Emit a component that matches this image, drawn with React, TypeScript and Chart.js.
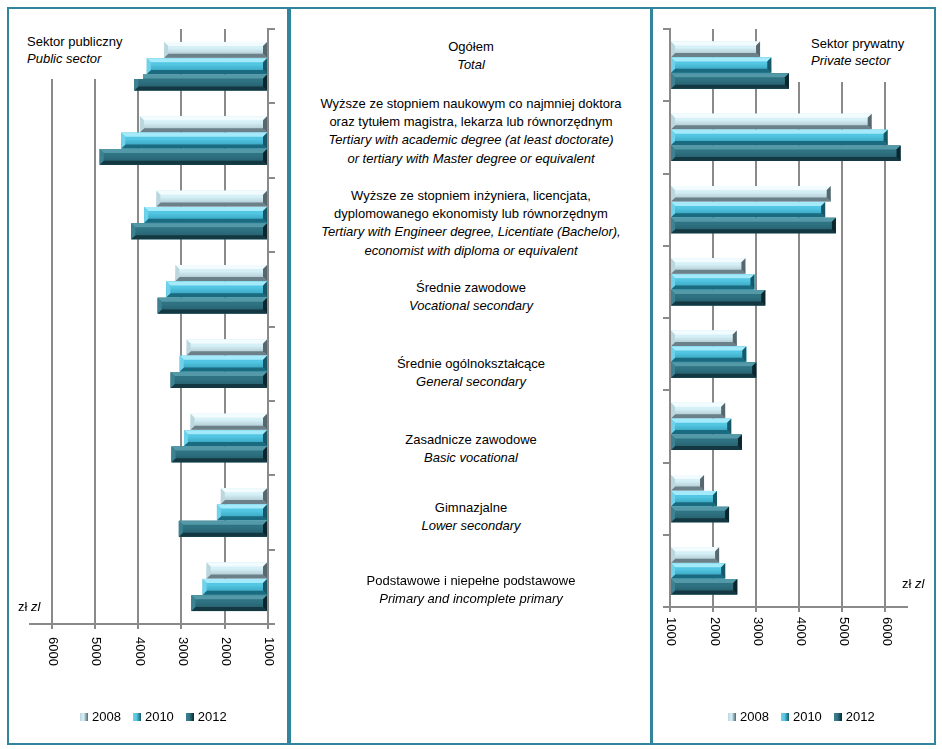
import React, { useEffect, useRef } from 'react';
import { Chart, registerables } from 'chart.js';

Chart.register(...registerables);

// ---------- data ----------
const categories = [
  'Ogółem',
  'Wyższe z doktoratem lub magisterium',
  'Wyższe z tytułem inżyniera lub licencjata',
  'Średnie zawodowe',
  'Średnie ogólnokształcące',
  'Zasadnicze zawodowe',
  'Gimnazjalne',
  'Podstawowe i niepełne podstawowe',
];
const seriesYears = ['2008', '2010', '2012'];

const public2008 = [3400, 3960, 3580, 3140, 2880, 2790, 2090, 2420];
const public2010 = [3800, 4390, 3860, 3350, 3040, 2940, 2180, 2510];
const public2012 = [4090, 4890, 4160, 3550, 3250, 3230, 3060, 2770];

const private2008 = [3090, 5680, 4730, 2750, 2550, 2280, 1790, 2140];
const private2010 = [3350, 6050, 4600, 2960, 2770, 2420, 2090, 2280];
const private2012 = [3760, 6350, 4850, 3210, 3000, 2670, 2370, 2560];

const tickValues = [1000, 2000, 3000, 4000, 5000, 6000];
const axisMin = 1000;
const axisMax = 6500;

const publicTitle = ['Sektor publiczny', 'Public sector'];
const privateTitle = ['Sektor prywatny', 'Private sector'];
const unitPl = 'zł';
const unitEn = 'zl';

const labelBlocks: { pl: string[]; en: string[] }[] = [
  { pl: ['Ogółem'], en: ['Total'] },
  {
    pl: ['Wyższe ze stopniem naukowym co najmniej doktora', 'oraz tytułem magistra, lekarza lub równorzędnym'],
    en: ['Tertiary with academic degree (at least doctorate)', 'or tertiary with Master degree or equivalent'],
  },
  {
    pl: ['Wyższe ze stopniem inżyniera, licencjata,', 'dyplomowanego ekonomisty lub równorzędnym'],
    en: ['Tertiary with Engineer degree, Licentiate (Bachelor),', 'economist with diploma or equivalent'],
  },
  { pl: ['Średnie zawodowe'], en: ['Vocational secondary'] },
  { pl: ['Średnie ogólnokształcące'], en: ['General secondary'] },
  { pl: ['Zasadnicze zawodowe'], en: ['Basic vocational'] },
  { pl: ['Gimnazjalne'], en: ['Lower secondary'] },
  { pl: ['Podstawowe i niepełne podstawowe'], en: ['Primary and incomplete primary'] },
];

// ---------- styles ----------
const FONT = "'Liberation Sans', Arial, sans-serif";
const GRID = '#8a8a8a';
const FRAME = '#31859c';

const palettes = [
  { hi: '#f2fcff', f1: '#d6f0f8', f2: '#9fb8c1', lo: '#6c8089', le: '#bcd6de', re: '#56676e' },
  { hi: '#a4eafa', f1: '#52c6e2', f2: '#2e97b2', lo: '#1b6b80', le: '#6fd2ea', re: '#165868' },
  { hi: '#5499a8', f1: '#2f7383', f2: '#235766', lo: '#133841', le: '#3d8292', re: '#0c262d' },
];

function poly(ctx: CanvasRenderingContext2D, pts: number[][], color: string) {
  ctx.beginPath();
  ctx.moveTo(pts[0][0], pts[0][1]);
  for (let i = 1; i < pts.length; i++) ctx.lineTo(pts[i][0], pts[i][1]);
  ctx.closePath();
  ctx.fillStyle = color;
  ctx.fill();
}

const bevelPlugin = {
  id: 'bevel',
  afterDatasetsDraw(chart: any) {
    const ctx: CanvasRenderingContext2D = chart.ctx;
    ctx.save();
    chart.data.datasets.forEach((_ds: any, di: number) => {
      const meta = chart.getDatasetMeta(di);
      const pal = palettes[di];
      meta.data.forEach((el: any) => {
        const p = el.getProps(['x', 'y', 'base', 'height'], true);
        const l = Math.min(p.x, p.base);
        const r = Math.max(p.x, p.base);
        const t = p.y - p.height / 2;
        const b = p.y + p.height / 2;
        const w = r - l;
        const h = b - t;
        const bv = Math.min(4, h / 3, w / 2);
        const g = ctx.createLinearGradient(0, t, 0, b);
        g.addColorStop(0, pal.f1);
        g.addColorStop(0.4, pal.f1);
        g.addColorStop(1, pal.f2);
        ctx.fillStyle = g;
        ctx.fillRect(l, t, w, h);
        poly(ctx, [[l, t], [r, t], [r - bv, t + bv], [l + bv, t + bv]], pal.hi);
        poly(ctx, [[l, b], [r, b], [r - bv, b - bv], [l + bv, b - bv]], pal.lo);
        poly(ctx, [[l, t], [l + bv, t + bv], [l + bv, b - bv], [l, b]], pal.le);
        poly(ctx, [[r, t], [r - bv, t + bv], [r - bv, b - bv], [r, b]], pal.re);
      });
    });
    ctx.restore();
  },
};

const tickTextPlugin = {
  id: 'tickText',
  afterDraw(chart: any, _args: any, opts: any) {
    const ctx: CanvasRenderingContext2D = chart.ctx;
    const xs = chart.scales.x;
    const bottom = chart.chartArea.bottom;
    ctx.save();
    ctx.fillStyle = '#000';
    ctx.font = `13px ${FONT}`;
    ctx.textAlign = 'left';
    ctx.textBaseline = 'middle';
    tickValues.forEach((v) => {
      const px = xs.getPixelForValue(v);
      ctx.save();
      ctx.translate(px + 1, bottom + opts.gap);
      ctx.rotate(Math.PI / 2);
      ctx.fillText(String(v), 0, 0);
      ctx.restore();
    });
    ctx.restore();
  },
};

type Geom = { padL: number; padR: number; padT: number; yWidth: number; xHeight: number; gap: number };

function buildConfig(values: number[][], mirrored: boolean, g: Geom): any {
  return {
    type: 'bar',
    data: {
      labels: categories,
      datasets: values.map((v, i) => ({
        label: seriesYears[i],
        data: v,
        base: axisMin,
        backgroundColor: palettes[i].f1,
        borderWidth: 0,
        categoryPercentage: 0.66,
        barPercentage: 0.97,
      })),
    },
    options: {
      indexAxis: 'y',
      animation: false,
      responsive: false,
      maintainAspectRatio: false,
      events: [],
      layout: { padding: { left: g.padL, right: g.padR, top: g.padT, bottom: 0 } },
      plugins: {
        legend: { display: false },
        tooltip: { enabled: false },
        tickText: { gap: g.gap },
      },
      scales: {
        x: {
          type: 'linear',
          position: 'bottom',
          reverse: mirrored,
          min: axisMin,
          max: axisMax,
          afterBuildTicks: (s: any) => {
            s.ticks = tickValues.map((v) => ({ value: v }));
          },
          ticks: { display: false },
          grid: { color: GRID, lineWidth: 2, drawTicks: true, tickLength: 5 },
          border: { display: true, color: GRID, width: 2 },
          afterFit: (s: any) => {
            s.height = g.xHeight;
          },
        },
        y: {
          type: 'category',
          position: mirrored ? 'right' : 'left',
          offset: true,
          ticks: { display: false },
          grid: {
            display: true,
            drawOnChartArea: false,
            drawTicks: true,
            tickLength: 7,
            color: GRID,
            lineWidth: 2,
            offset: true,
          },
          border: { display: true, color: GRID, width: 2 },
          afterFit: (s: any) => {
            s.width = g.yWidth;
          },
        },
      },
    },
    plugins: [bevelPlugin, tickTextPlugin],
  };
}

function BarCanvas(props: { values: number[][]; mirrored: boolean; geom: Geom; left: number; top: number; width: number; height: number }) {
  const ref = useRef<HTMLCanvasElement | null>(null);
  useEffect(() => {
    if (!ref.current) return;
    const chart = new Chart(ref.current, buildConfig(props.values, props.mirrored, props.geom));
    return () => chart.destroy();
  }, []);
  return (
    <canvas
      ref={ref}
      width={props.width}
      height={props.height}
      style={{ position: 'absolute', left: props.left, top: props.top, width: props.width, height: props.height }}
    />
  );
}

function Legend(props: { left: number; top: number }) {
  return (
    <div
      style={{
        position: 'absolute',
        left: props.left,
        top: props.top,
        display: 'flex',
        alignItems: 'center',
        font: `13px ${FONT}`,
        lineHeight: '18px',
        color: '#000',
        whiteSpace: 'nowrap',
      }}
    >
      {seriesYears.map((y, i) => (
        <div key={y} style={{ display: 'flex', alignItems: 'center', marginRight: 12 }}>
          <span
            style={{
              display: 'inline-block',
              width: 8,
              height: 8,
              marginRight: 4,
              background: `linear-gradient(to right, ${palettes[i].le} 0%, ${palettes[i].f1} 45%, ${palettes[i].re} 100%)`,
            }}
          />
          <span>{y}</span>
        </div>
      ))}
    </div>
  );
}

const firstLineCenters = [47, 104, 196, 288, 364, 440, 508, 581];
const LINE_H = 18.3;

export default function App() {
  const text: React.CSSProperties = { font: `13px ${FONT}`, color: '#000', lineHeight: '17px' };
  return (
    <div style={{ position: 'absolute', left: 0, top: 0, width: 942, height: 749, background: '#fff', overflow: 'hidden' }}>
      {/* frames */}
      <div style={{ position: 'absolute', left: 7, top: 7, width: 282, height: 738, border: `2px solid ${FRAME}`, boxSizing: 'border-box' }} />
      <div style={{ position: 'absolute', left: 289, top: 7, width: 364, height: 738, border: `2px solid ${FRAME}`, boxSizing: 'border-box' }} />
      <div style={{ position: 'absolute', left: 650, top: 7, width: 286, height: 738, border: `2px solid ${FRAME}`, boxSizing: 'border-box' }} />

      <BarCanvas
        values={[public2008, public2010, public2012]}
        mirrored={true}
        geom={{ padL: 20, padR: 0, padT: 20, yWidth: 19, xHeight: 119, gap: 13 }}
        left={10}
        top={9}
        width={277}
        height={734}
      />
      <BarCanvas
        values={[private2008, private2010, private2012]}
        mirrored={false}
        geom={{ padL: 0, padR: 27, padT: 20, yWidth: 17, xHeight: 136, gap: 10 }}
        left={653}
        top={9}
        width={281}
        height={734}
      />

      {/* panel titles (white boxes cover grid tops) */}
      <div style={{ position: 'absolute', left: 10, top: 27, width: 133, height: 52, background: '#fff' }} />
      <div style={{ ...text, position: 'absolute', left: 27, top: 32.5 }}>
        <div>{publicTitle[0]}</div>
        <div style={{ fontStyle: 'italic' }}>{publicTitle[1]}</div>
      </div>
      <div style={{ position: 'absolute', left: 793, top: 27, width: 140, height: 55, background: '#fff' }} />
      <div style={{ ...text, position: 'absolute', left: 811, top: 34.5 }}>
        <div>{privateTitle[0]}</div>
        <div style={{ fontStyle: 'italic' }}>{privateTitle[1]}</div>
      </div>

      {/* units */}
      <div style={{ ...text, position: 'absolute', left: 18, top: 598 }}>
        {unitPl} <i>{unitEn}</i>
      </div>
      <div style={{ ...text, position: 'absolute', left: 902, top: 575 }}>
        {unitPl} <i>{unitEn}</i>
      </div>

      {/* middle category descriptions */}
      {labelBlocks.map((blk, i) => (
        <div
          key={i}
          style={{
            position: 'absolute',
            left: 291,
            width: 360,
            top: firstLineCenters[i] - LINE_H / 2,
            textAlign: 'center',
            font: `13px ${FONT}`,
            lineHeight: `${LINE_H}px`,
            color: '#000',
            whiteSpace: 'nowrap',
          }}
        >
          {blk.pl.map((s, j) => (
            <div key={'p' + j}>{s}</div>
          ))}
          {blk.en.map((s, j) => (
            <div key={'e' + j} style={{ fontStyle: 'italic' }}>
              {s}
            </div>
          ))}
        </div>
      ))}

      <Legend left={80} top={708} />
      <Legend left={728} top={708} />
    </div>
  );
}
